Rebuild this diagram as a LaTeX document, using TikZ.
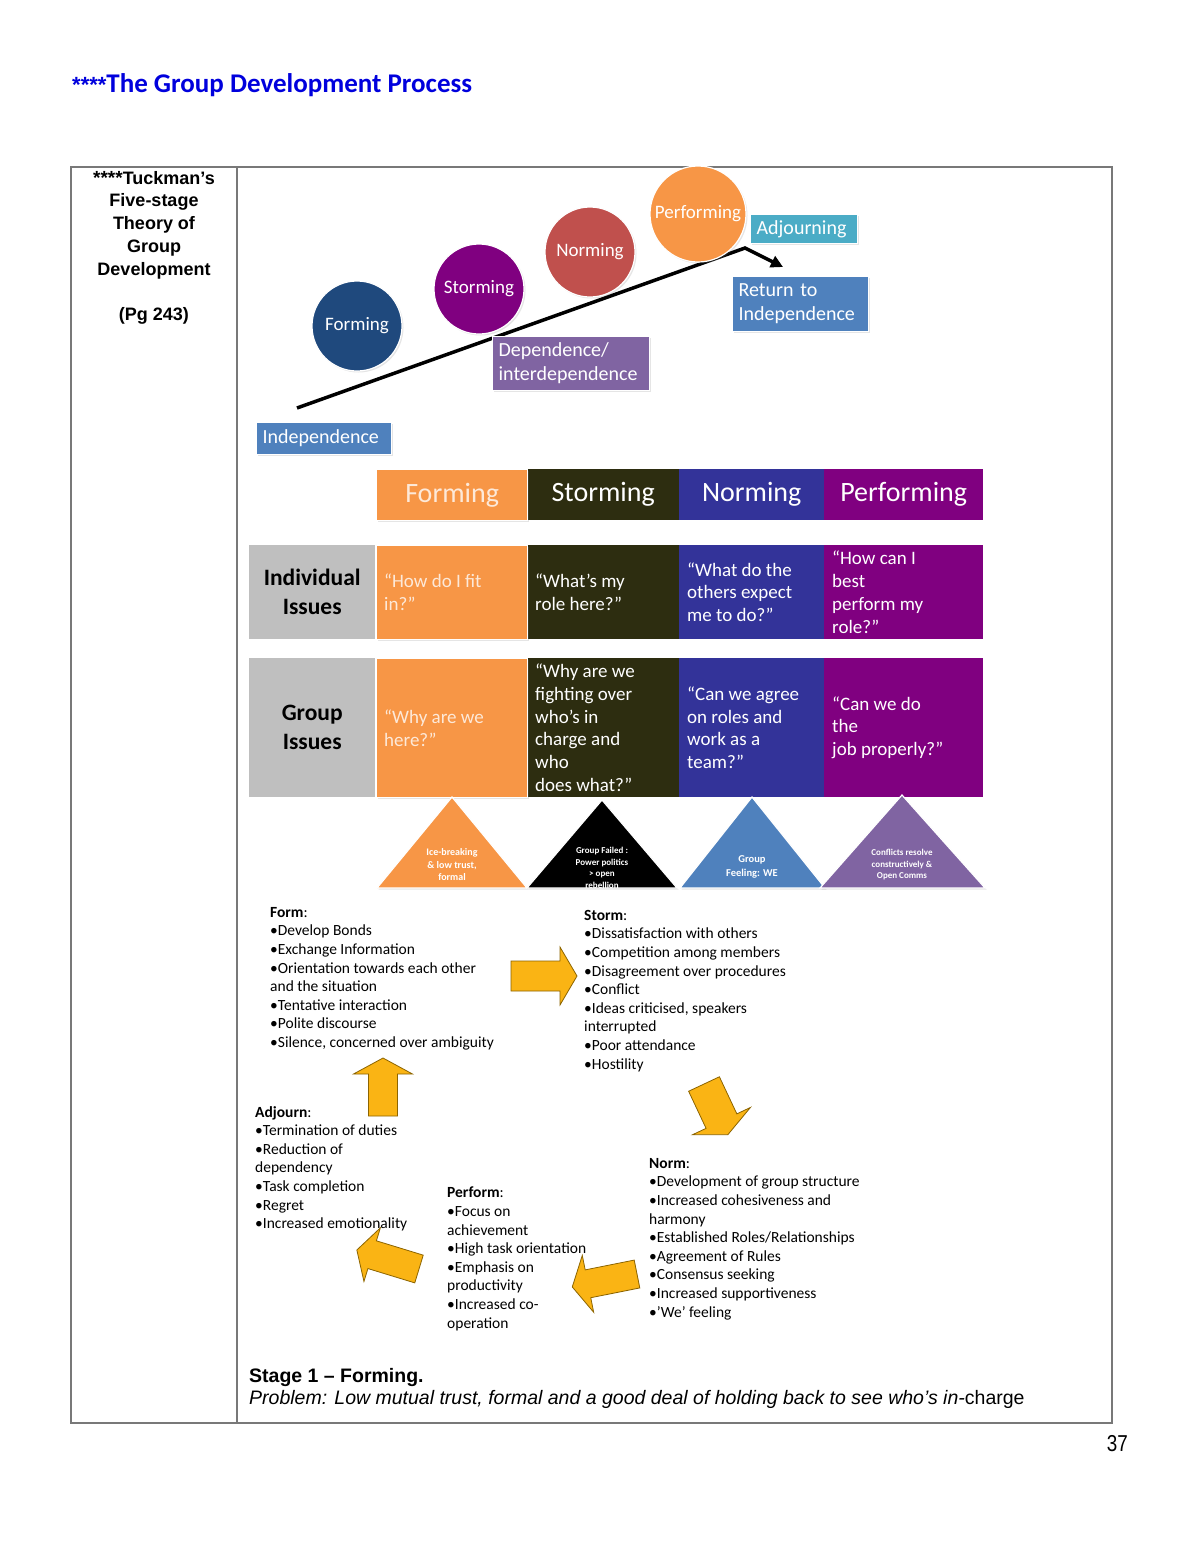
\documentclass[tikz,border=0pt]{standalone}
\usepackage{fontspec}
\setmainfont{Carlito}
\newfontfamily\arialfont{Liberation Sans}
\newfontfamily\narrowfont[FakeStretch=0.82]{Liberation Sans}
\usetikzlibrary{arrows.meta,positioning,shadows}

\definecolor{titleblue}{RGB}{0,0,221}
\definecolor{formc}{RGB}{247,150,70}
\definecolor{stormc}{RGB}{45,45,16}
\definecolor{normc}{RGB}{51,51,153}
\definecolor{perfc}{RGB}{128,0,128}
\definecolor{circblue}{RGB}{31,73,125}
\definecolor{circred}{RGB}{192,80,77}
\definecolor{boxblue}{RGB}{79,129,189}
\definecolor{boxcyan}{RGB}{75,172,198}
\definecolor{boxpurple}{RGB}{128,100,162}
\definecolor{labelgray}{RGB}{191,191,191}
\definecolor{peach}{RGB}{253,233,217}
\definecolor{arrowfill}{RGB}{250,180,20}
\definecolor{arrowline}{RGB}{140,100,0}
\definecolor{framegray}{RGB}{120,120,120}

\begin{document}
\begin{tikzpicture}[x=1pt,y=-1pt,
  softshadow/.style={drop shadow={opacity=0.2,shadow xshift=1.5pt,shadow yshift=-1.5pt}},
  stagecirc/.style={circle, inner sep=0pt, draw=white, line width=1.2pt, text=white,
    font=\fontsize{19}{22}\selectfont, softshadow},
  stagebox/.style={rectangle, anchor=north west, draw=white, line width=1.2pt,
    inner xsep=6pt, inner ysep=0pt, align=left, text=white,
    font=\fontsize{20}{24}\selectfont, softshadow},
  headcell/.style={rectangle, anchor=north west, inner sep=0pt, minimum height=51pt,
    text=white, font=\fontsize{28}{32}\selectfont},
  cell/.style={rectangle, anchor=north west, inner sep=0pt},
  celltext/.style={anchor=west, align=left, inner sep=0pt, text=white,
    font=\fontsize{19}{22.8}\selectfont},
  rowlabel/.style={align=center, font=\bfseries\fontsize{23.5}{29}\selectfont},
  tritext/.style={align=center, inner sep=0pt, text=white,
    font=\bfseries\fontsize{10}{12.5}\selectfont},
  stagelist/.style={anchor=north west, align=left, inner sep=0pt,
    font=\fontsize{15.5}{18.6}\selectfont},
  blockarrow/.style={fill=arrowfill, draw=arrowline, line width=0.8pt, line join=miter}]

  % Page size and background
  \useasboundingbox (0,0) rectangle (1200,1553);
  \fill[white] (0,0) rectangle (1200,1553);

  % Heading
  \node[anchor=base west, inner sep=0pt, text=titleblue,
        font=\bfseries\fontsize{27}{30}\selectfont] (title) at (72,92)
        {{\arialfont\fontsize{22}{24}\selectfont ****}The Group Development Process};

  % Table frame with two columns
  \draw[framegray, line width=1.2pt] (71,167) rectangle (1112,1423);
  \draw[framegray, line width=1.2pt] (237,167) -- (237,1423);

  \node[anchor=north, align=center, inner sep=0pt,
        font=\arialfont\bfseries\fontsize{18}{22.7}\selectfont] (theory) at (154,171)
        {{\fontsize{19}{20}\selectfont ****}Tuckman’s\\Five-stage\\Theory of\\Group\\Development\\[22.7pt](Pg 243)};

  % Rising line from independence to adjourning
  \coordinate (lnS) at (297,408);
  \coordinate (lnK) at (745,248);
  \coordinate (lnE) at (783,267);
  \draw[line width=3.5pt, -{Triangle[length=12pt,width=12pt]}] (lnS) -- (lnK) -- (lnE);

  % Label boxes along the line
  \node[stagebox, fill=boxblue, text width=123pt, minimum height=32pt] (indep) at (256,422) {Independence};
  \node[stagebox, fill=boxpurple, text width=145pt, minimum height=54pt] (depend) at (492,336) {Dependence/\\interdependence};
  \node[stagebox, fill=boxcyan, text width=95pt, minimum height=29pt] (adjourn) at (750,214) {Adjourning};
  \node[stagebox, fill=boxblue, text width=124pt, minimum height=55pt] (return) at (732,276) {Return to\\Independence};

  % Stage circles
  \node[stagecirc, fill=circblue, minimum size=90pt] (cForm) at (357,326) {Forming};
  \node[stagecirc, fill=perfc, minimum size=90pt] (cStorm) at (479,289) {Storming};
  \node[stagecirc, fill=circred, minimum size=90pt] (cNorm) at (590,252) {Norming};
  \node[stagecirc, fill=formc, minimum size=96pt] (cPerf) at (698,214) {Performing};

  % Header row
  \foreach \nm/\xa/\xb/\col/\lbl in {st/527/679/stormc/Storming, no/679/824/normc/Norming, pe/824/983/perfc/Performing}
    \node[headcell, fill=\col, minimum width=\xb-\xa] (h-\nm) at (\xa,469) {\lbl};
  \node[headcell, fill=formc, text=peach, draw=white, line width=1.2pt, softshadow,
        minimum width=151pt] (h-fo) at (376,469) {Forming};

  % Issue rows
  \node[cell, fill=labelgray, minimum width=126pt, minimum height=94pt] (i-lab) at (249,545) {};
  \node[rowlabel] (i-lab-t) at (i-lab.center) {Individual\\Issues};
  \node[cell, fill=labelgray, minimum width=126pt, minimum height=139pt] (g-lab) at (249,658) {};
  \node[rowlabel] (g-lab-t) at (g-lab.center) {Group\\Issues};

  \foreach \nm/\xa/\xb/\col in {st/527/679/stormc, no/679/824/normc, pe/824/983/perfc} {
    \node[cell, fill=\col, minimum width=\xb-\xa, minimum height=94pt] (i-\nm) at (\xa,545) {};
    \node[cell, fill=\col, minimum width=\xb-\xa, minimum height=139pt] (g-\nm) at (\xa,658) {};
  }
  \node[cell, fill=formc, draw=white, line width=1.2pt, softshadow,
        minimum width=151pt, minimum height=94pt] (i-fo) at (376,545) {};
  \node[cell, fill=formc, draw=white, line width=1.2pt, softshadow,
        minimum width=151pt, minimum height=139pt] (g-fo) at (376,658) {};

  \node[celltext, text=peach, right=8pt of i-fo.west] (i-fo-t) {“How do I fit\\in?”};
  \node[celltext, right=8pt of i-st.west] (i-st-t) {“What’s my\\role here?”};
  \node[celltext, right=8pt of i-no.west] (i-no-t) {“What do the\\others expect\\me to do?”};
  \node[celltext, right=8pt of i-pe.west] (i-pe-t) {“How can I\\best\\perform my\\role?”};

  \node[celltext, text=peach, right=8pt of g-fo.west] (g-fo-t) {“Why are we\\here?”};
  \node[celltext, right=8pt of g-st.west] (g-st-t) {“Why are we\\fighting over\\who’s in\\charge and\\who\\does what?”};
  \node[celltext, right=8pt of g-no.west] (g-no-t) {“Can we agree\\on roles and\\work as a\\team?”};
  \node[celltext, right=8pt of g-pe.west] (g-pe-t) {“Can we do\\the\\job properly?”};

  % Triangles under the table
  \foreach \ax/\ay/\bl/\br/\col in {452/797/377/527/formc, 602/800/527/677/black, 752/797/680/825/boxblue, 902/795/820/985/boxpurple}
    \filldraw[fill=\col, draw=white, line width=1.2pt, softshadow] (\ax,\ay) -- (\br,888) -- (\bl,888) -- cycle;

  \node[tritext] (t-fo) at (452,865) {Ice-breaking\\\& low trust,\\formal};
  \node[tritext, font=\bfseries\fontsize{9}{11.5}\selectfont] (t-st) at (602,868) {Group Failed :\\Power politics\\> open\\rebellion};
  \node[tritext, font=\bfseries\fontsize{10.5}{14}\selectfont] (t-no) at (752,867) {Group\\Feeling: WE};
  \node[tritext, font=\bfseries\fontsize{9}{11.5}\selectfont] (t-pe) at (902,865) {Conflicts resolve\\constructively \&\\Open Comms};

  % Stage descriptions
  \node[stagelist] (lForm) at (270,907)
    {\textbf{Form}:\\•Develop Bonds\\•Exchange Information\\•Orientation towards each other\\and the situation\\•Tentative interaction\\•Polite discourse\\•Silence, concerned over ambiguity};
  \node[stagelist] (lStorm) at (584,910)
    {\textbf{Storm}:\\•Dissatisfaction with others\\•Competition among members\\•Disagreement over procedures\\•Conflict\\•Ideas criticised, speakers\\interrupted\\•Poor attendance\\•Hostility};
  \node[stagelist] (lNorm) at (649,1158)
    {\textbf{Norm}:\\•Development of group structure\\•Increased cohesiveness and\\harmony\\•Established Roles/Relationships\\•Agreement of Rules\\•Consensus seeking\\•Increased supportiveness\\•'We' feeling};
  \node[stagelist] (lPerf) at (447,1187)
    {\textbf{Perform}:\\•Focus on\\achievement\\•High task orientation\\•Emphasis on\\productivity\\•Increased co-\\operation};
  \node[stagelist] (lAdj) at (255,1106)
    {\textbf{Adjourn}:\\•Termination of duties\\•Reduction of\\dependency\\•Task completion\\•Regret\\•Increased emotionality};

  % Block arrows round the cycle (tail x/y, angle, length, body, head, head length)
  \foreach \tx/\ty/\ang/\len/\bw/\hw/\hl in {511/976/0/66/15/29/17, 383/1116/90/58/14.5/29.5/16,
      704/1084/-64.8/56/17/32/15, 637/1274/191.3/66/14.2/29/16, 419/1269/163/65/14.5/28/16} {
    \begin{scope}[shift={(\tx,\ty)}, rotate=\ang]
      \filldraw[blockarrow] (0,-\bw) -- (\len-\hl,-\bw) -- (\len-\hl,-\hw) -- (\len,0)
        -- (\len-\hl,\hw) -- (\len-\hl,\bw) -- (0,\bw) -- cycle;
    \end{scope}
  }

  % Stage caption
  \node[anchor=north west, align=left, inner sep=0pt,
        font=\arialfont\fontsize{19.5}{22}\selectfont] (stage1) at (249,1368)
    {\textbf{Stage 1 – Forming.}\\\textit{Problem: Low mutual trust, formal and a good deal of holding back to see who’s in-}charge};

  % Page number
  \node[anchor=base east, inner sep=0pt, font=\narrowfont\fontsize{23}{26}\selectfont] (pageno) at (1128,1451) {37};

\end{tikzpicture}
\end{document}
